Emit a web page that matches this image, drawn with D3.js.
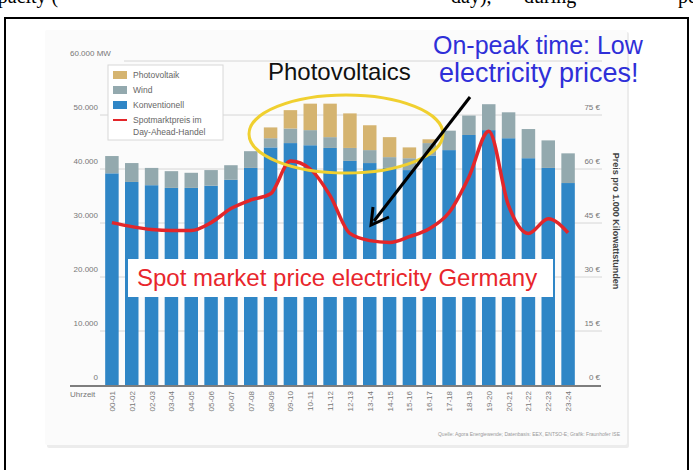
<!DOCTYPE html>
<html>
<head>
<meta charset="utf-8">
<script src="https://cdn.jsdelivr.net/npm/d3@7"></script>
<style>
  body { margin: 0; background: #fff; }
  svg { display: block; }
</style>
</head>
<body>
<svg id="chart" width="693" height="470"></svg>
<script>
// Stunden (x-Achse)
const hours = ["00-01","01-02","02-03","03-04","04-05","05-06","06-07","07-08","08-09","09-10","10-11","11-12",
               "12-13","13-14","14-15","15-16","16-17","17-18","18-19","19-20","20-21","21-22","22-23","23-24"];

// Erzeugung in MW
const konventionell = [39200,37600,37000,36500,36500,36900,38000,40200,44000,44800,44400,43900,
                       41500,41100,40200,39800,42500,43500,46300,47200,45700,42000,40200,37400];
const wind          = [3200,3500,3200,3100,2800,2900,2700,3100,1700,2700,2800,2000,
                       2400,2400,2000,2200,2300,3600,3600,4800,4800,5400,5100,5500];
const photovoltaik  = [0,0,0,0,0,0,0,0,2000,3400,4900,6200,
                       6400,4600,3700,2000,700,0,0,0,0,0,0,0];

// Spotmarktpreis Day-Ahead in Euro pro MWh
const preis = [45.1,44.0,43.2,42.9,42.9,45.1,49.0,51.4,53.1,62.2,60.0,52.6,
               42.1,40.1,39.6,41.2,43.4,47.9,57.8,70.5,49.8,42.1,46.2,42.3];

const mwTicks = [0,10000,20000,30000,40000,50000,60000];
const euroTicks = [0,15,30,45,60,75];

const legendItems = [
  { label: "Photovoltaik", color: "#d5b470", type: "rect" },
  { label: "Wind", color: "#93a9ae", type: "rect" },
  { label: "Konventionell", color: "#2f86c6", type: "rect" },
  { label: "Spotmarktpreis im", color: "#e3262a", type: "line" }
];

const colors = { konv: "#2f86c6", wind: "#93a9ae", pv: "#d5b470" };

const de = d3.formatLocale({ decimal: ",", thousands: ".", grouping: [3], currency: ["", " €"] });
const fmt = de.format(",");

const svg = d3.select("#chart");

// Text oben (abgeschnitten) und Rahmen
const topText = svg.append("g")
  .style("font-family", "'Liberation Serif', 'Times New Roman', serif")
  .style("font-size", "20px");
[["capacity (", -20], ["day),", 451], ["during", 524], ["peak", 678]].forEach(([t, xx]) => {
  topText.append("text").attr("x", xx).attr("y", 3).text(t);
});

svg.append("rect")
  .attr("x", 5).attr("y", 18).attr("width", 683).attr("height", 470)
  .attr("fill", "#fff").attr("stroke", "#000").attr("stroke-width", 2);

// Diagrammfläche
svg.append("rect").attr("x", 47).attr("y", 32).attr("width", 582).attr("height", 416)
  .attr("fill", "#ececec").attr("rx", 2);
svg.append("rect").attr("x", 45).attr("y", 30).attr("width", 582).attr("height", 415)
  .attr("fill", "#fbfbfb").attr("rx", 2);

const x = d3.scaleBand().domain(hours).range([102, 578]).paddingInner(0.32).paddingOuter(0.16);
const y = d3.scaleLinear().domain([0, 60000]).range([385, 61]);
const yPreis = d3.scaleLinear().domain([0, 90]).range([385, 61]);

// Gitterlinien
svg.append("g").selectAll("line")
  .data(mwTicks.filter(d => d > 0))
  .join("line")
  .attr("x1", d => d === 60000 ? 124 : 100)
  .attr("x2", 602)
  .attr("y1", d => y(d)).attr("y2", d => y(d))
  .attr("stroke", "#d6d6d6").attr("stroke-width", 1);

// Linke Achse
svg.append("g").selectAll("text")
  .data(mwTicks)
  .join("text")
  .attr("x", d => d === 60000 ? 70 : 98)
  .attr("y", d => y(d) - 5)
  .attr("text-anchor", d => d === 60000 ? "start" : "end")
  .style("font-family", "'Liberation Sans', Arial, sans-serif")
  .style("font-size", "8px")
  .attr("fill", "#777")
  .text(d => d === 60000 ? fmt(d) + " MW" : fmt(d));

// Rechte Achse
svg.append("g").selectAll("text")
  .data(euroTicks)
  .join("text")
  .attr("x", 600)
  .attr("y", d => yPreis(d) - 5)
  .attr("text-anchor", "end")
  .style("font-family", "'Liberation Sans', Arial, sans-serif")
  .style("font-size", "8px")
  .attr("fill", "#777")
  .text(d => d + " €");

svg.append("text")
  .attr("transform", "translate(613,221) rotate(90)")
  .attr("text-anchor", "middle")
  .style("font-family", "'Liberation Sans', Arial, sans-serif")
  .style("font-size", "9px")
  .style("font-weight", "bold")
  .attr("fill", "#444")
  .text("Preis pro 1.000 Kilowattstunden");

// Gestapelte Balken
const rows = hours.map((h, i) => ({ hour: h, konv: konventionell[i], wind: wind[i], pv: photovoltaik[i] }));
const stacked = d3.stack().keys(["konv", "wind", "pv"])(rows);

svg.append("g").selectAll("g")
  .data(stacked)
  .join("g")
  .attr("fill", s => colors[s.key])
  .selectAll("rect")
  .data(s => s)
  .join("rect")
  .attr("x", d => x(d.data.hour))
  .attr("width", x.bandwidth())
  .attr("y", d => y(d[1]))
  .attr("height", d => y(d[0]) - y(d[1]));

// x-Achse
svg.append("line").attr("x1", 70).attr("x2", 601).attr("y1", y(0) + 1).attr("y2", y(0) + 1)
  .attr("stroke", "#555").attr("stroke-width", 1.5);

svg.append("g").selectAll("text")
  .data(hours)
  .join("text")
  .attr("transform", d => `translate(${x(d) + x.bandwidth() / 2 + 3},391) rotate(-90)`)
  .attr("text-anchor", "end")
  .style("font-family", "'Liberation Sans', Arial, sans-serif")
  .style("font-size", "8px")
  .attr("fill", "#777")
  .text(d => d);

svg.append("text").attr("x", 70).attr("y", 397)
  .style("font-family", "'Liberation Sans', Arial, sans-serif")
  .style("font-size", "8px").attr("fill", "#777").text("Uhrzeit");

// Preislinie
const line = d3.line()
  .x((d, i) => x(hours[i]) + x.bandwidth() / 2)
  .y(d => yPreis(d))
  .curve(d3.curveMonotoneX);

svg.append("path").datum(preis)
  .attr("d", line)
  .attr("fill", "none")
  .attr("stroke", "#e3262a")
  .attr("stroke-width", 3.5)
  .attr("stroke-linejoin", "round");

// Legende
const legend = svg.append("g").attr("transform", "translate(108,65)");
legend.append("rect").attr("width", 115).attr("height", 75)
  .attr("fill", "#fff").attr("stroke", "#d8d8d8");
legendItems.forEach((it, i) => {
  const cy = 10 + i * 15;
  if (it.type === "rect") {
    legend.append("rect").attr("x", 5).attr("y", cy - 4).attr("width", 14).attr("height", 8).attr("fill", it.color);
  } else {
    legend.append("line").attr("x1", 5).attr("x2", 19).attr("y1", cy).attr("y2", cy)
      .attr("stroke", it.color).attr("stroke-width", 2);
  }
  legend.append("text").attr("x", 25).attr("y", cy + 3)
    .style("font-family", "'Liberation Sans', Arial, sans-serif")
    .style("font-size", "8.5px").attr("fill", "#666").text(it.label);
});
legend.append("text").attr("x", 25).attr("y", 73 - 3)
  .style("font-family", "'Liberation Sans', Arial, sans-serif")
  .style("font-size", "8.5px").attr("fill", "#666").text("Day-Ahead-Handel");

// Quelle
svg.append("text").attr("x", 620).attr("y", 436).attr("text-anchor", "end")
  .style("font-family", "'Liberation Sans', Arial, sans-serif")
  .style("font-size", "5px").attr("fill", "#999")
  .text("Quelle: Agora Energiewende; Datenbasis: EEX, ENTSO-E; Grafik: Fraunhofer ISE");

// Markierungen
svg.append("ellipse").attr("cx", 346).attr("cy", 134).attr("rx", 97).attr("ry", 39)
  .attr("fill", "none").attr("stroke", "#f0d030").attr("stroke-width", 3);

svg.append("line").attr("x1", 470).attr("y1", 97).attr("x2", 374).attr("y2", 221)
  .attr("stroke", "#000").attr("stroke-width", 3);
svg.append("path").attr("d", "M373,207 L371,225 L389,217")
  .attr("fill", "none").attr("stroke", "#000").attr("stroke-width", 3).attr("stroke-linejoin", "miter");

svg.append("text").attr("x", 268).attr("y", 80)
  .style("font-family", "'Liberation Sans', Arial, sans-serif")
  .style("font-size", "24px").attr("fill", "#111").text("Photovoltaics");

const blue = svg.append("g").style("font-family", "'Liberation Sans', Arial, sans-serif")
  .attr("fill", "#2f2fd8");
blue.append("text").attr("x", 433).attr("y", 54).style("font-size", "25px").text("On-peak time: Low");
blue.append("text").attr("x", 439).attr("y", 82).style("font-size", "27px").text("electricity prices!");

svg.append("rect").attr("x", 128).attr("y", 259).attr("width", 425).attr("height", 38).attr("fill", "#fff");
svg.append("text").attr("x", 137).attr("y", 286)
  .style("font-family", "'Liberation Sans', Arial, sans-serif")
  .style("font-size", "24px").attr("fill", "#e8262c")
  .text("Spot market price electricity Germany");
</script>
</body>
</html>
